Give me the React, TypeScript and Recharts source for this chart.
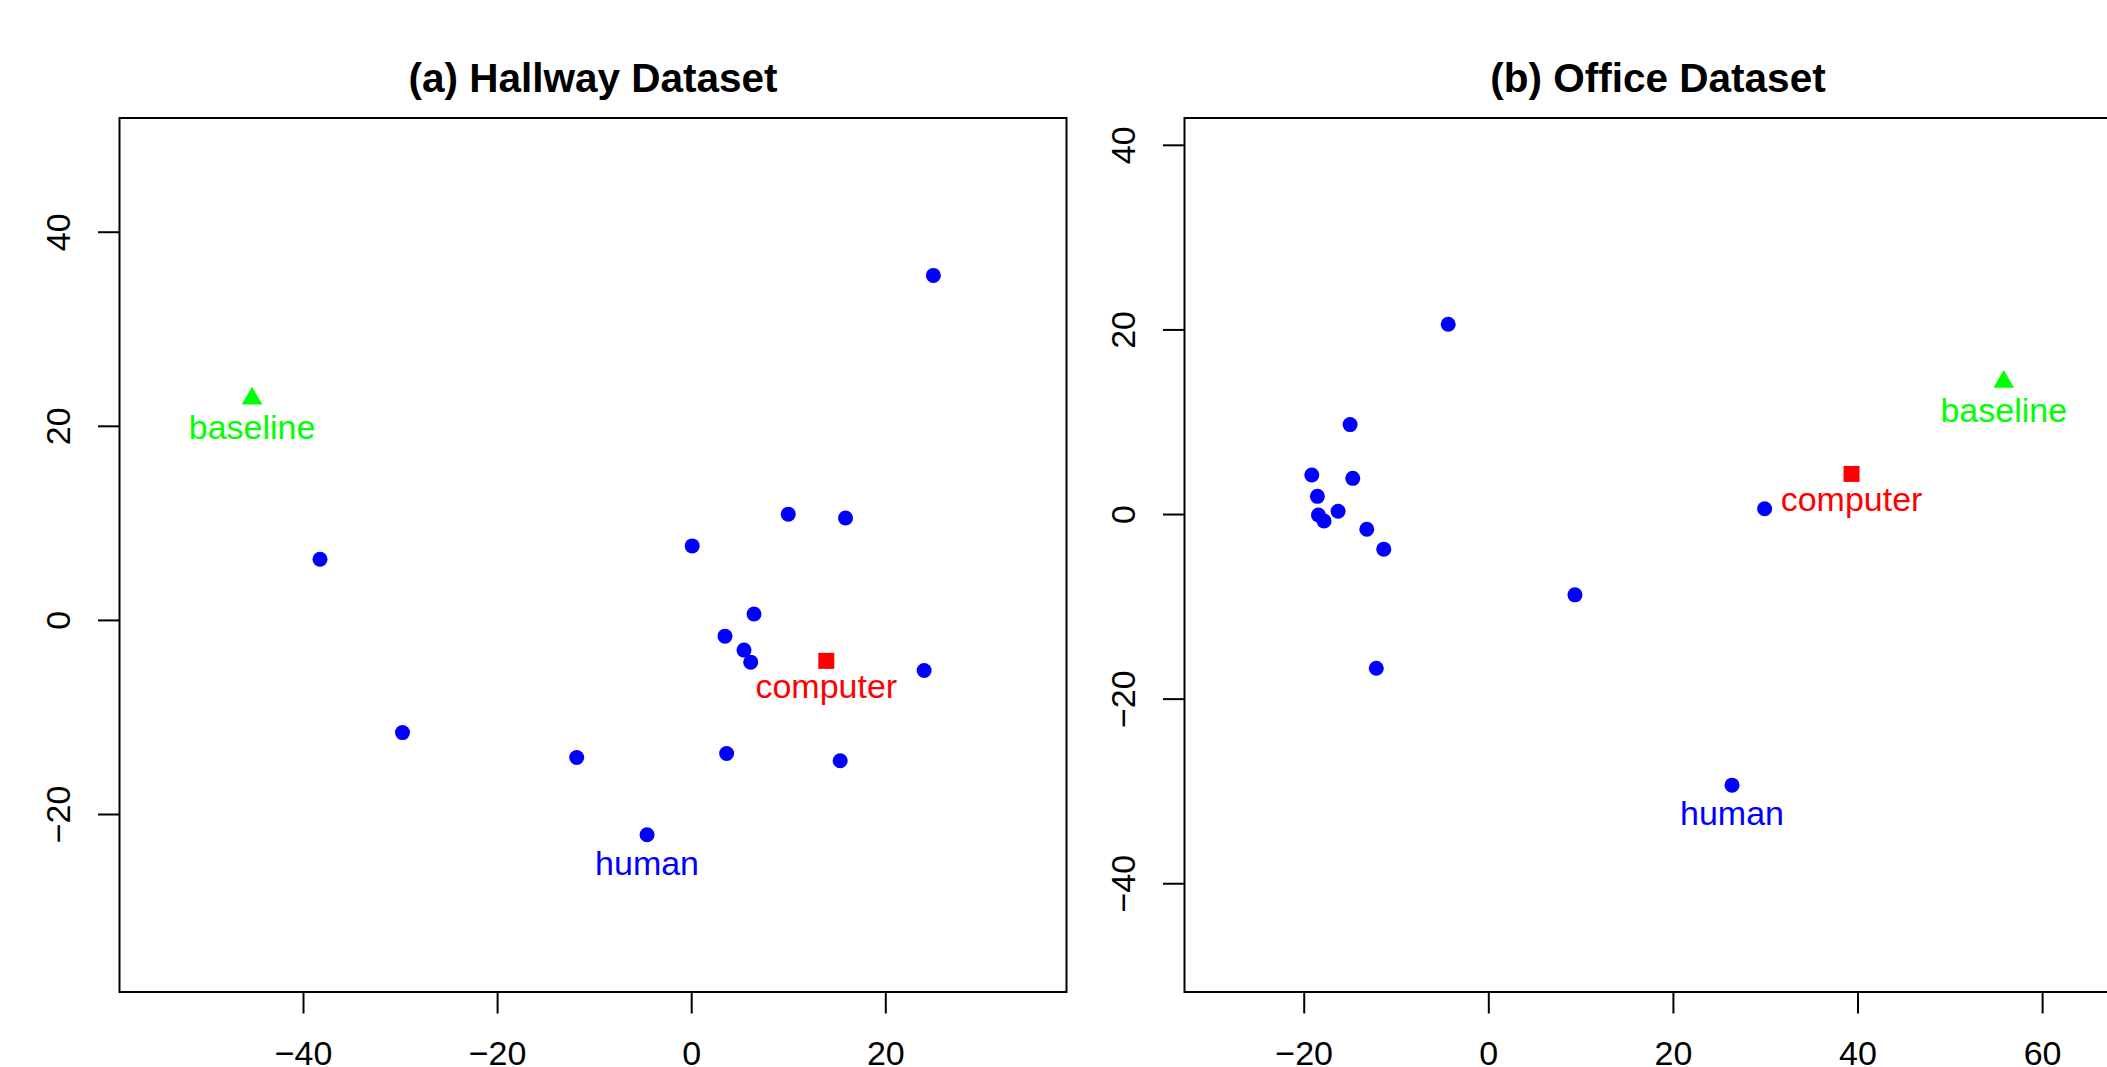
import { ScatterChart, Scatter, XAxis, YAxis, ReferenceArea } from "recharts"

// (a) Hallway dataset
const hallwayX = [24.9, 9.95, 15.85, 0.05, -38.3, 6.42, 3.43, 5.39, 6.08, 23.95, -29.8, -11.85, 3.6, 15.3]
const hallwayY = [35.55, 10.95, 10.55, 7.68, 6.3, 0.66, -1.62, -3.06, -4.3, -5.16, -11.56, -14.12, -13.72, -14.46]
const hallwayHuman = { x: -4.6, y: -22.08 }
const hallwayComputer = { x: 13.87, y: -4.17 }
const hallwayBaseline = { x: -45.3, y: 22.85 }
const hallwayXDomain = [-58.96, 38.62]
const hallwayYDomain = [-38.29, 51.77]
const hallwayXTicks = [-40, -20, 0, 20]
const hallwayYTicks = [-20, 0, 20, 40]

// (b) Office dataset
const officeX = [-4.4, -15.03, -19.18, -14.74, -18.57, -18.46, -17.85, -16.33, -13.22, -11.38, 9.33, -12.19, 29.88]
const officeY = [20.62, 9.74, 4.28, 3.92, 1.97, -0.05, -0.7, 0.35, -1.6, -3.75, -8.7, -16.65, 0.62]
const officeHuman = { x: 26.35, y: -29.32 }
const officeComputer = { x: 39.3, y: 4.4 }
const officeBaseline = { x: 55.79, y: 14.38 }
const officeXDomain = [-32.97, 69.63]
const officeYDomain = [-51.73, 42.96]
const officeXTicks = [-20, 0, 20, 40, 60]
const officeYTicks = [-40, -20, 0, 20, 40]

const FONT = '"Liberation Sans", Arial, Helvetica, sans-serif'
const BLUE = "#0000ff"
const RED = "#ff0000"
const GREEN = "#00ff00"

const toPoints = (xs: number[], ys: number[]) => xs.map((x, i) => ({ x, y: ys[i] }))
const fmt = (v: number) => String(v).replace("-", "\u2212")

function BlueDot(p: any) {
  return <circle cx={p.cx} cy={p.cy} r={7.5} fill={BLUE} />
}

// marker + label underneath, like text(pos = 1) in R
function labelled(kind: "dot" | "square" | "triangle", color: string, text: string) {
  return (p: any) => {
    const { cx, cy } = p
    const asc = /[bdfhkl]/.test(text) ? 25 : 22.5
    let marker
    if (kind === "dot") marker = <circle cx={cx} cy={cy} r={7.5} fill={color} />
    else if (kind === "square") marker = <rect x={cx - 8} y={cy - 8} width={16} height={16} fill={color} />
    else
      marker = (
        <polygon
          points={`${cx},${cy - 11.8} ${cx + 10.3},${cy + 5.9} ${cx - 10.3},${cy + 5.9}`}
          fill={color}
        />
      )
    return (
      <g>
        {marker}
        <text x={cx} y={cy + 15 + asc} textAnchor="middle" fill={color} fontSize={34} fontFamily={FONT}>
          {text}
        </text>
      </g>
    )
  }
}

function XTick(props: any) {
  const { x, y, payload } = props
  return (
    <text x={x} y={y} dy="0.71em" textAnchor="middle" fontSize={34} fontFamily={FONT} fill="#000">
      {fmt(payload.value)}
    </text>
  )
}

function YTick(props: any) {
  const { x, y, payload } = props
  const bx = x - 27.6
  return (
    <text
      x={bx}
      y={y}
      transform={`rotate(-90 ${bx} ${y})`}
      textAnchor="middle"
      fontSize={34}
      fontFamily={FONT}
      fill="#000"
    >
      {fmt(payload.value)}
    </text>
  )
}

type PanelProps = {
  left: number
  xs: number[]
  ys: number[]
  human: { x: number; y: number }
  computer: { x: number; y: number }
  baseline: { x: number; y: number }
  xDomain: number[]
  yDomain: number[]
  xTicks: number[]
  yTicks: number[]
}

function Panel(p: PanelProps) {
  return (
    <div style={{ position: "absolute", left: p.left, top: 0 }}>
      <ScatterChart width={1100} height={1067} margin={{ top: 118, right: 33.5, bottom: 0, left: 0 }}>
        <XAxis
          type="number"
          dataKey="x"
          domain={p.xDomain}
          allowDataOverflow
          ticks={p.xTicks}
          interval={0}
          height={75}
          axisLine={false}
          tickLine={{ stroke: "#000", strokeWidth: 2 }}
          tickSize={21.5}
          tickMargin={27.5}
          tick={<XTick />}
        />
        <YAxis
          type="number"
          dataKey="y"
          domain={p.yDomain}
          allowDataOverflow
          ticks={p.yTicks}
          interval={0}
          width={119.5}
          axisLine={false}
          tickLine={{ stroke: "#000", strokeWidth: 2 }}
          tickSize={21.5}
          tickMargin={0}
          tick={<YTick />}
        />
        <ReferenceArea
          x1={p.xDomain[0]}
          x2={p.xDomain[1]}
          y1={p.yDomain[0]}
          y2={p.yDomain[1]}
          fill="none"
          fillOpacity={0}
          stroke="#000"
          strokeWidth={2}
          ifOverflow="visible"
        />
        <Scatter data={toPoints(p.xs, p.ys)} shape={BlueDot} isAnimationActive={false} />
        <Scatter data={[p.human]} shape={labelled("dot", BLUE, "human")} isAnimationActive={false} />
        <Scatter data={[p.computer]} shape={labelled("square", RED, "computer")} isAnimationActive={false} />
        <Scatter data={[p.baseline]} shape={labelled("triangle", GREEN, "baseline")} isAnimationActive={false} />
      </ScatterChart>
    </div>
  )
}

export default function App() {
  return (
    <div
      style={{
        position: "absolute",
        left: 0,
        top: 0,
        width: 2107,
        height: 1067,
        overflow: "hidden",
        background: "#fff",
      }}
    >
      <Panel
        left={0}
        xs={hallwayX}
        ys={hallwayY}
        human={hallwayHuman}
        computer={hallwayComputer}
        baseline={hallwayBaseline}
        xDomain={hallwayXDomain}
        yDomain={hallwayYDomain}
        xTicks={hallwayXTicks}
        yTicks={hallwayYTicks}
      />
      <Panel
        left={1065}
        xs={officeX}
        ys={officeY}
        human={officeHuman}
        computer={officeComputer}
        baseline={officeBaseline}
        xDomain={officeXDomain}
        yDomain={officeYDomain}
        xTicks={officeXTicks}
        yTicks={officeYTicks}
      />
      <svg width={2107} height={130} style={{ position: "absolute", left: 0, top: 0 }}>
        <text x={593} y={91.7} textAnchor="middle" fontSize={40.5} fontWeight="bold" fontFamily={FONT} fill="#000">
          (a) Hallway Dataset
        </text>
        <text x={1658} y={91.7} textAnchor="middle" fontSize={40.5} fontWeight="bold" fontFamily={FONT} fill="#000">
          (b) Office Dataset
        </text>
      </svg>
    </div>
  )
}
